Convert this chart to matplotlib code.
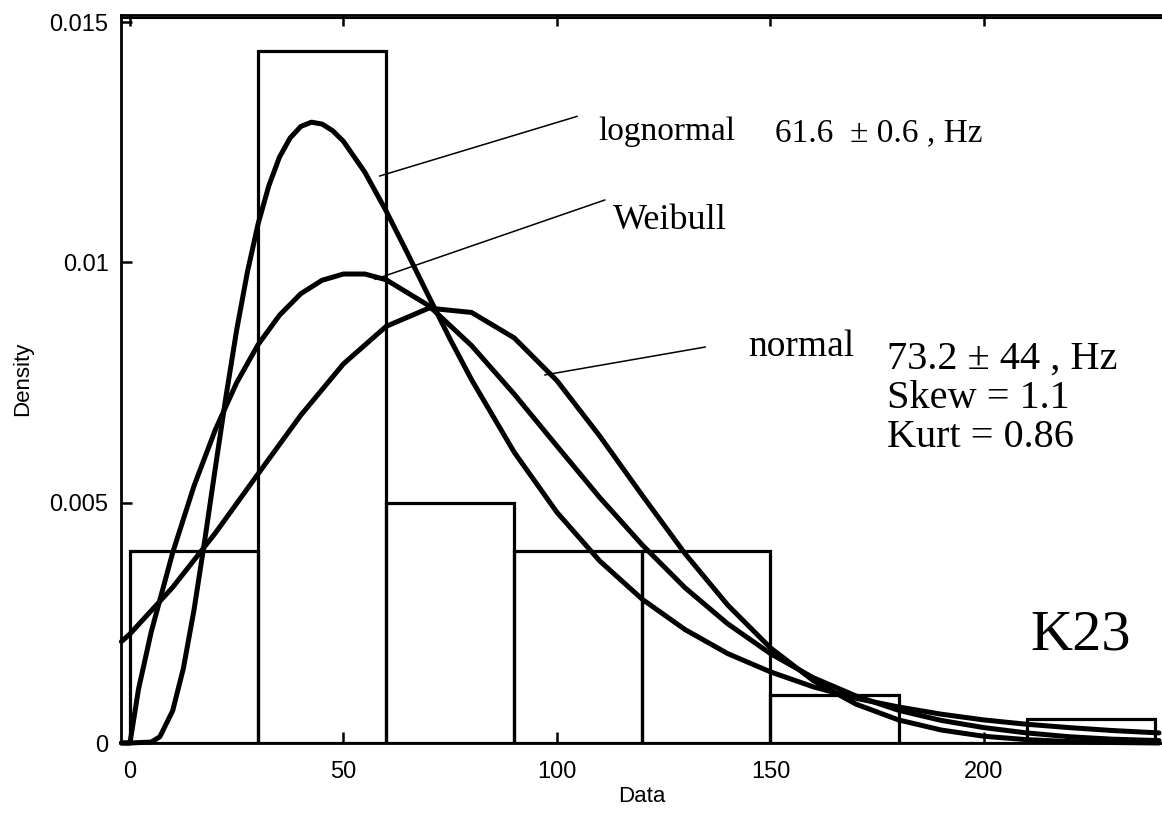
import matplotlib
matplotlib.use("Agg")
import matplotlib.pyplot as plt
from matplotlib.ticker import FuncFormatter

# histogram of the K23 sample (density, bin width 30)
bin_edges = [0, 30, 60, 90, 120, 150, 180, 210, 240]
bin_density = [0.0040, 0.0144, 0.0050, 0.0040, 0.0040, 0.0010, 0.0, 0.0005]

# fitted curves, read at sample points
normal_x = [-2, 0, 10, 20, 30, 40, 50, 60, 70, 80, 90, 100, 110, 120, 130,
            140, 150, 160, 170, 180, 190, 200, 210, 220, 230, 241]
normal_y = [0.00211, 0.00227, 0.00324, 0.00437, 0.00560, 0.00682, 0.00789,
            0.00867, 0.00905, 0.00896, 0.00843, 0.00754, 0.00639, 0.00515,
            0.00394, 0.00287, 0.00198, 0.00130, 0.00081, 0.00048, 0.00027,
            0.00014, 0.00007, 0.00003, 0.00001, 0.0]

lognorm_x = [-2, 0, 5, 7, 10, 12.5, 15, 17.5, 20, 22.5, 25, 27.5, 30, 32.5,
             35, 37.5, 40, 42.5, 45, 47.5, 50, 55, 60, 65, 70, 75, 80, 90,
             100, 110, 120, 130, 140, 150, 160, 170, 180, 190, 200, 210,
             220, 230, 241]
lognorm_y = [0.0, 0.0, 0.00002, 0.00013, 0.00067, 0.00155, 0.00277, 0.00421,
             0.00573, 0.00722, 0.00860, 0.00980, 0.01080, 0.01159, 0.01219,
             0.01259, 0.01283, 0.01292, 0.01288, 0.01274, 0.01252, 0.01188,
             0.01107, 0.01019, 0.00929, 0.00840, 0.00756, 0.00605, 0.00480,
             0.00379, 0.00299, 0.00236, 0.00186, 0.00148, 0.00117, 0.00093,
             0.00075, 0.00060, 0.00048, 0.00039, 0.00032, 0.00026, 0.00021]

weibull_x = [-2, 0, 2, 5, 10, 15, 20, 25, 30, 35, 40, 45, 50, 55, 60, 70,
             80, 90, 100, 110, 120, 130, 140, 150, 160, 170, 180, 190, 200,
             210, 220, 230, 241]
weibull_y = [0.0, 0.0, 0.00112, 0.00232, 0.00396, 0.00535, 0.00652, 0.00750,
             0.00829, 0.00890, 0.00935, 0.00963, 0.00976, 0.00976, 0.00964,
             0.00910, 0.00827, 0.00726, 0.00618, 0.00511, 0.00412, 0.00323,
             0.00248, 0.00186, 0.00136, 0.00098, 0.00068, 0.00047, 0.00032,
             0.00021, 0.00013, 0.00008, 0.00005]

x_ticks = [0, 50, 100, 150, 200]
y_ticks = [0, 0.005, 0.01, 0.015]

serif = "Liberation Serif"
sans = "Liberation Sans"

fig = plt.figure(figsize=(11.62, 8.14), dpi=100)
ax = fig.add_axes([121 / 1162, 71 / 814, 1041 / 1162, 728 / 814])

ax.bar(bin_edges[:-1], bin_density, width=30, align="edge", fill=False,
       edgecolor="black", linewidth=2.3, zorder=2)

for xs, ys in [(normal_x, normal_y), (weibull_x, weibull_y), (lognorm_x, lognorm_y)]:
    ax.plot(xs, ys, color="black", linewidth=3.6, solid_joinstyle="round",
            solid_capstyle="round", clip_on=False, zorder=3)

# leader lines to the curve names
ax.plot([104.7, 58.5], [0.01304, 0.01180], color="black", linewidth=1.1)
ax.plot([111.2, 57.4], [0.01130, 0.00965], color="black", linewidth=1.1)
ax.plot([134.7, 97.2], [0.00824, 0.00766], color="black", linewidth=1.1)

ax.text(109.6, 0.01273, "lognormal", fontsize=24, family=serif, va="center")
ax.text(113.1, 0.01087, "Weibull", fontsize=26, family=serif, va="center")
ax.text(144.7, 0.00824, "normal", fontsize=27, family=serif, va="center")
ax.text(151.0, 0.01269, "61.6  \u00b1 0.6 , Hz", fontsize=24, family=serif,
        va="center")
ax.text(177.3, 0.00799, "73.2 \u00b1 44 , Hz", fontsize=29, family=serif,
        va="center")
ax.text(177.3, 0.00716, "Skew = 1.1", fontsize=29, family=serif, va="center")
ax.text(177.3, 0.00635, "Kurt = 0.86", fontsize=29, family=serif, va="center")
ax.text(210.8, 0.00224, "K23", fontsize=42, family=serif, va="center")

ax.set_xlim(-2.1, 241.7)
ax.set_ylim(0, 0.01515)
ax.set_xticks(x_ticks)
ax.set_yticks(y_ticks)
ax.yaxis.set_major_formatter(FuncFormatter(lambda v, p: "%g" % v))
ax.tick_params(direction="in", length=8, width=1.8, labelsize=17,
               top=True, bottom=True, left=True, right=False)
ax.tick_params(axis="x", pad=13)
ax.tick_params(axis="y", pad=9)
for lab in ax.get_xticklabels() + ax.get_yticklabels():
    lab.set_family(sans)

ax.spines["right"].set_visible(False)
for side in ["left", "bottom", "top"]:
    ax.spines[side].set_linewidth(2.0)
# second rule just under the top border
ax.plot([0, 1], [0.996, 0.996], transform=ax.transAxes, color="black",
        linewidth=1.5, clip_on=False)

ax.set_xlabel("Data", fontsize=16, family=sans, labelpad=2)
ax.set_ylabel("Density", fontsize=16, family=sans, labelpad=12)

fig.savefig("out.png", dpi=100)
